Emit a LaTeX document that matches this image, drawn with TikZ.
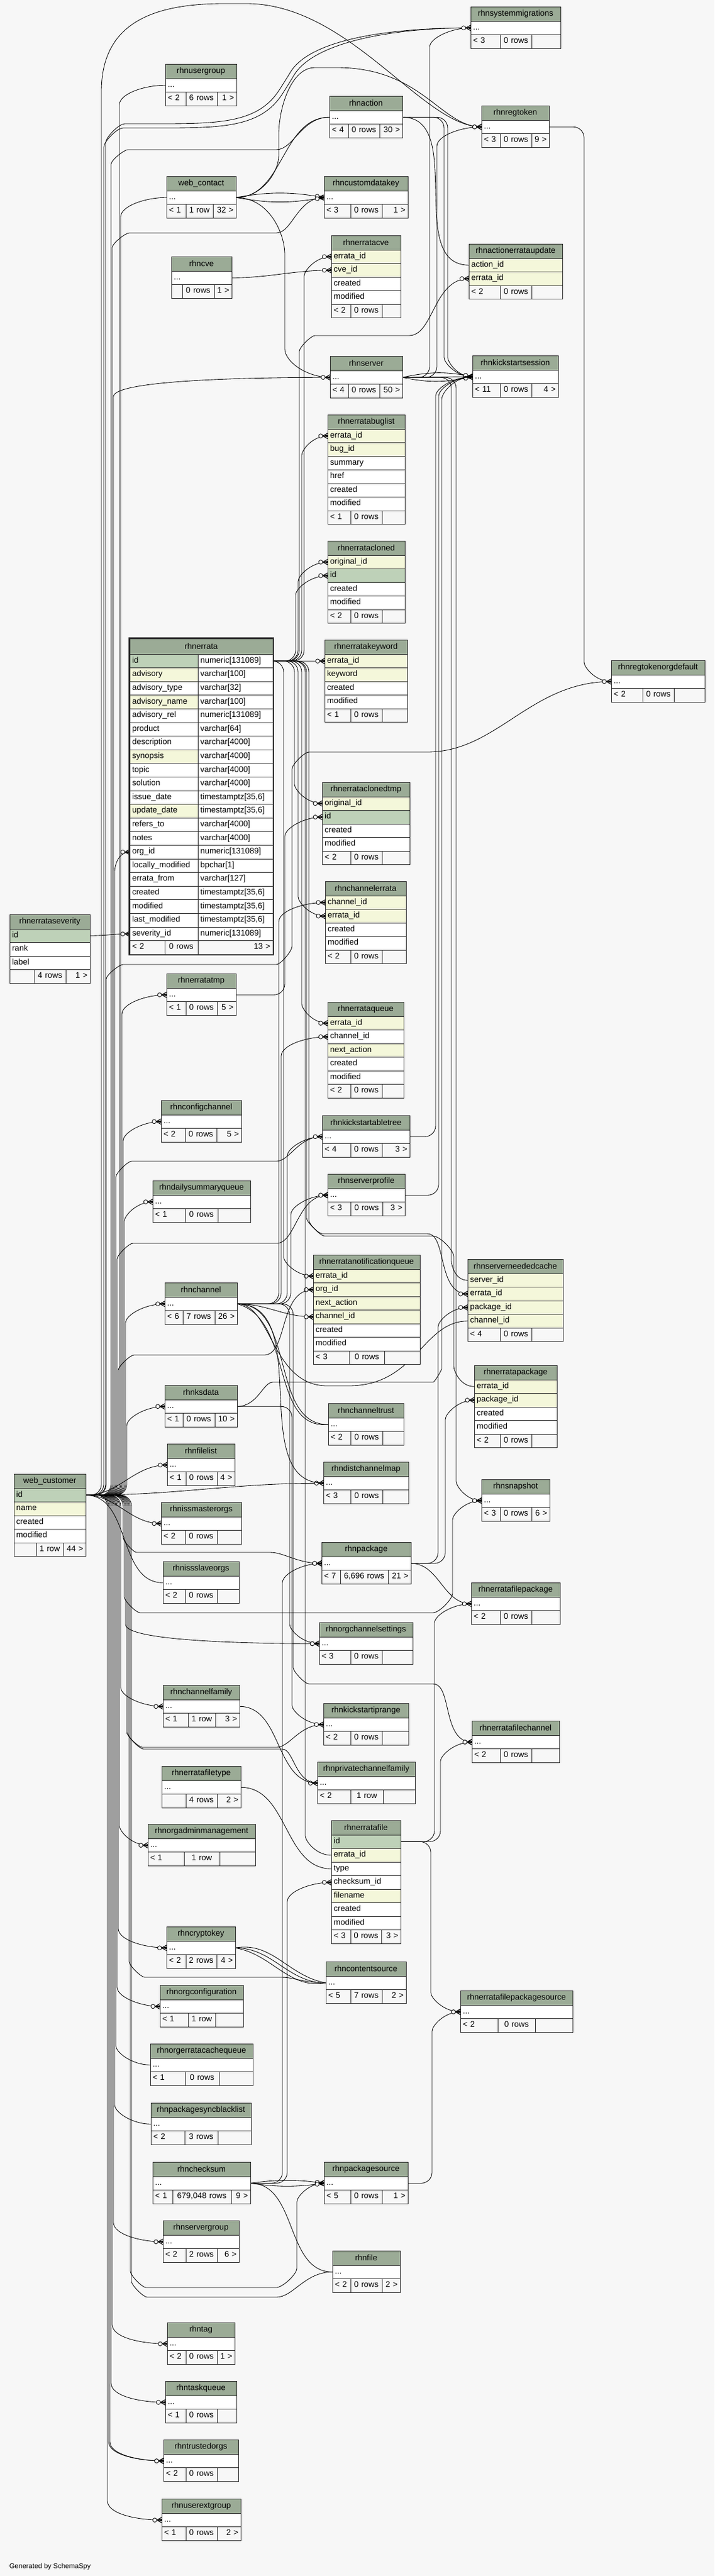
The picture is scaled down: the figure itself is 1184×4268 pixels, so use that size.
\documentclass[tikz,border=0pt]{standalone}
\usepackage{fontspec}
\setmainfont{Liberation Sans}
\usetikzlibrary{calc,decorations.markings}

\definecolor{bgc}{HTML}{F7F7F7}
\definecolor{hdc}{HTML}{9BAB96}
\definecolor{pkc}{HTML}{BED1B8}
\definecolor{ixc}{HTML}{F4F7DA}
\definecolor{ftc}{HTML}{F7F7F7}
\definecolor{lnc}{HTML}{2B2B2B}

\pgfdeclarelayer{background}
\pgfsetlayers{background,main}

% ends of the foreign keys
\newcommand\crowfoot{%
  \draw[line width=1.1pt,sharp corners] (-8pt,0pt) -- (0pt,4.5pt) (-8pt,0pt) -- (0pt,-4.5pt);
  \fill[sharp corners] (-8pt,0pt) -- (0pt,2pt) -- (0pt,-2pt) -- cycle;
  \filldraw[line width=0.8pt,fill=white] (-11.5pt,0pt) circle (3.4pt);}
\newcommand\onefoot{%
  \draw[line width=2pt,sharp corners] (-1.5pt,-4.5pt) -- (-1.5pt,4.5pt);
  \filldraw[line width=0.8pt,fill=white] (-8pt,0pt) circle (3.4pt);}

\tikzset{
  hd/.style={draw=lnc, fill=hdc, line width=0.9pt, anchor=north west,
    minimum height=24pt, inner sep=0pt, outer sep=0pt},
  rw/.style={draw=lnc, fill=white, line width=0.9pt, anchor=north west,
    minimum height=22.5pt, inner xsep=4pt, inner ysep=0pt, outer sep=0pt,
    align=left, execute at begin node=\strut},
  ft/.style={rw, fill=ftc},
  pkrow/.style={fill=pkc},
  ixrow/.style={fill=ixc},
  fk/.style={draw=black, line width=0.85pt, rounded corners=18pt,
    decoration={markings, mark=at position 1 with {\crowfoot}},
    postaction={decorate}},
  fkone/.style={fk, decoration={markings, mark=at position 1 with {\onefoot}}},
}

% table pieces: name, ..., left x, top y, right x
\newcommand\tabhead[5]{\pgfmathsetmacro\tbw{#5-#3}%
  \node[hd, minimum width=\tbw pt] (#1T) at (#3,#4) {#2};}
\newcommand\tabrow[6]{\pgfmathsetmacro\tbw{#5-#3-8}%
  \node[rw, #2, text width=\tbw pt] (#1) at (#3,#4) {#6};}
\newcommand\tabdots[5]{\tabhead{#1}{#2}{#3}{#4}{#5}\tabrow{#1}{}{#3}{#4+24}{#5}{...}}
\newcommand\tabfoot[9]{%
  \pgfmathsetmacro\fwa{#4-#2-8}\pgfmathsetmacro\fwb{#5-#4-8}\pgfmathsetmacro\fwc{#6-#5-8}%
  \node[ft, text width=\fwa pt] (#1F1) at (#2,#3) {#7};
  \node[ft, text width=\fwb pt, align=center] (#1F2) at (#4,#3) {#8};
  \node[ft, text width=\fwc pt, align=right] (#1F3) at (#5,#3) {#9};}

% connectors that run along a trunk at x = #4
\newcommand\upedge[4][fk]{\draw[#1] let \p2=(#3) in (#2) -| (#4pt,\y2-50pt)
  to[out=90,in=180,out max distance=45pt] (#3);}
\newcommand\downedge[4][fk]{\draw[#1] let \p2=(#3) in (#2) -| (#4pt,\y2+50pt)
  to[out=-90,in=180,out max distance=45pt] (#3);}

\begin{document}
\begin{tikzpicture}[x=1pt, y=-1pt, font=\fontsize{13.5}{15}\selectfont]
\useasboundingbox (0,0) rectangle (1184,4268);

% column 1
\tabdots{rhnusergroup}{rhnusergroup}{274}{106}{392}
\tabfoot{rhnusergroup}{274}{152.5}{308}{360}{392}{< 2}{6 rows}{1 >}
\tabdots{webcontact}{web\_contact}{276}{292}{391}
\tabfoot{webcontact}{276}{338.5}{308}{353}{391}{< 1}{1 row}{32 >}
\tabdots{rhncve}{rhncve}{284}{425}{384}
\tabfoot{rhncve}{284}{471.5}{302}{355}{384}{}{0 rows}{1 >}

\node[hd, minimum width=237pt, minimum height=26pt] (rhnerrataT) at (215,1058) {rhnerrata};
\foreach \n/\t/\c [count=\i from 0] in {id/numeric[131089]/pkc, advisory/varchar[100]/ixc,
    advisory\_type/varchar[32]/white, advisory\_name/varchar[100]/ixc,
    advisory\_rel/numeric[131089]/white, product/varchar[64]/white,
    description/varchar[4000]/white, synopsis/varchar[4000]/ixc, topic/varchar[4000]/white,
    solution/varchar[4000]/white, issue\_date/{timestamptz[35,6]}/white,
    update\_date/{timestamptz[35,6]}/ixc, refers\_to/varchar[4000]/white,
    notes/varchar[4000]/white, org\_id/numeric[131089]/white, locally\_modified/bpchar[1]/white,
    errata\_from/varchar[127]/white, created/{timestamptz[35,6]}/white,
    modified/{timestamptz[35,6]}/white, last\_modified/{timestamptz[35,6]}/white,
    severity\_id/numeric[131089]/white}
  {\node[rw, fill=\c, minimum height=22.6pt, text width=105pt] (er\i) at (215,1084+22.6*\i) {\n};
   \node[rw, minimum height=22.6pt, text width=116pt] (et\i) at (328,1084+22.6*\i) {\t};}
\tabfoot{rhnerrata}{215}{1558.6}{273}{328}{452}{< 2}{0 rows}{13 >}
\draw[lnc, line width=2.6pt] (214,1057) rectangle (453,1582);

\tabhead{rhnerrataseverity}{rhnerrataseverity}{16}{1515}{149}
\tabrow{rhnerrataseverity-id}{pkrow}{16}{1539}{149}{id}
\tabrow{rhnerrataseverity-rank}{}{16}{1561.5}{149}{rank}
\tabrow{rhnerrataseverity-label}{}{16}{1584}{149}{label}
\tabfoot{rhnerrataseverity}{16}{1606.5}{57}{109}{149}{}{4 rows}{1 >}

\tabdots{rhnerratatmp}{rhnerratatmp}{276}{1613}{391}
\tabfoot{rhnerratatmp}{276}{1659.5}{308}{360}{391}{< 1}{0 rows}{5 >}
\tabdots{rhnconfigchannel}{rhnconfigchannel}{267}{1823}{400}
\tabfoot{rhnconfigchannel}{267}{1869.5}{307}{359}{400}{< 2}{0 rows}{5 >}
\tabdots{rhndailysummaryqueue}{rhndailysummaryqueue}{253}{1956}{415}
\tabfoot{rhndailysummaryqueue}{253}{2002.5}{307}{361}{415}{< 1}{0 rows}{}
\tabdots{rhnchannel}{rhnchannel}{273}{2125}{393}
\tabfoot{rhnchannel}{273}{2171.5}{303}{356}{393}{< 6}{7 rows}{26 >}
\tabdots{rhnksdata}{rhnksdata}{273}{2295}{393}
\tabfoot{rhnksdata}{273}{2341.5}{303}{356}{393}{< 1}{0 rows}{10 >}
\tabdots{rhnfilelist}{rhnfilelist}{277}{2392}{389}
\tabfoot{rhnfilelist}{277}{2438.5}{308}{360}{389}{< 1}{0 rows}{4 >}

\tabhead{wc}{web\_customer}{23}{2442}{142}
\tabrow{wc-id}{pkrow}{23}{2466}{142}{id}
\tabrow{wc-name}{ixrow}{23}{2488.5}{142}{name}
\tabrow{wc-created}{}{23}{2511}{142}{created}
\tabrow{wc-modified}{}{23}{2533.5}{142}{modified}
\tabfoot{wc}{23}{2556}{60}{105}{142}{}{1 row}{44 >}

\tabdots{rhnissmasterorgs}{rhnissmasterorgs}{267}{2489}{400}
\tabfoot{rhnissmasterorgs}{267}{2535.5}{307}{360}{400}{< 2}{0 rows}{}
\tabdots{rhnissslaveorgs}{rhnissslaveorgs}{270}{2587}{396}
\tabfoot{rhnissslaveorgs}{270}{2633.5}{307}{360}{396}{< 2}{0 rows}{}
\tabdots{rhnchannelfamily}{rhnchannelfamily}{270}{2792}{397}
\tabfoot{rhnchannelfamily}{270}{2838.5}{312}{357}{397}{< 1}{1 row}{3 >}
\tabdots{rhnerratafiletype}{rhnerratafiletype}{268}{2926}{399}
\tabfoot{rhnerratafiletype}{268}{2972.5}{308}{360}{399}{}{4 rows}{2 >}
\tabdots{rhnorgadminmanagement}{rhnorgadminmanagement}{245}{3022}{423}
\tabfoot{rhnorgadminmanagement}{245}{3068.5}{305}{364}{423}{< 1}{1 row}{}
\tabdots{rhncryptokey}{rhncryptokey}{276}{3192}{390}
\tabfoot{rhncryptokey}{276}{3238.5}{308}{359}{390}{< 2}{2 rows}{4 >}
\tabdots{rhnorgconfiguration}{rhnorgconfiguration}{265}{3289}{403}
\tabfoot{rhnorgconfiguration}{265}{3335.5}{312}{357}{403}{< 1}{1 row}{}
\tabdots{rhnorgerratacachequeue}{rhnorgerratacachequeue}{249}{3386}{419}
\tabfoot{rhnorgerratacachequeue}{249}{3432.5}{307}{363}{419}{< 1}{0 rows}{}
\tabdots{rhnpackagesyncblacklist}{rhnpackagesyncblacklist}{250}{3484}{416}
\tabfoot{rhnpackagesyncblacklist}{250}{3530.5}{306}{361}{416}{< 2}{3 rows}{}
\tabdots{rhnchecksum}{rhnchecksum}{253}{3582}{415}
\tabfoot{rhnchecksum}{253}{3628.5}{286}{383}{415}{< 1}{679,048 rows}{9 >}
\tabdots{rhnservergroup}{rhnservergroup}{270}{3679}{396}
\tabfoot{rhnservergroup}{270}{3725.5}{308}{360}{396}{< 2}{2 rows}{6 >}
\tabdots{rhntag}{rhntag}{277}{3848}{389}
\tabfoot{rhntag}{277}{3894.5}{308}{360}{389}{< 2}{0 rows}{1 >}
\tabdots{rhntaskqueue}{rhntaskqueue}{274}{3945}{392}
\tabfoot{rhntaskqueue}{274}{3991.5}{308}{360}{392}{< 1}{0 rows}{}
\tabdots{rhntrustedorgs}{rhntrustedorgs}{271}{4042}{395}
\tabfoot{rhntrustedorgs}{271}{4088.5}{308}{360}{395}{< 2}{0 rows}{}
\tabdots{rhnuserextgroup}{rhnuserextgroup}{268}{4140}{399}
\tabfoot{rhnuserextgroup}{268}{4186.5}{308}{360}{399}{< 1}{0 rows}{2 >}

% column 2
\tabdots{rhnaction}{rhnaction}{546}{159}{667}
\tabfoot{rhnaction}{546}{205.5}{577}{629}{667}{< 4}{0 rows}{30 >}
\tabdots{rhncustomdatakey}{rhncustomdatakey}{537}{292}{676}
\tabfoot{rhncustomdatakey}{537}{338.5}{581}{633}{676}{< 3}{0 rows}{1 >}

\tabhead{rhnerratacve}{rhnerratacve}{549}{390}{664}
\tabrow{rhnerratacve-errata}{ixrow}{549}{414}{664}{errata\_id}
\tabrow{rhnerratacve-cve}{ixrow}{549}{436.5}{664}{cve\_id}
\tabrow{rhnerratacve-created}{}{549}{459}{664}{created}
\tabrow{rhnerratacve-modified}{}{549}{481.5}{664}{modified}
\tabfoot{rhnerratacve}{549}{504}{581}{633}{664}{< 2}{0 rows}{}

\tabdots{rhnserver}{rhnserver}{547}{590}{667}
\tabfoot{rhnserver}{547}{636.5}{577}{629}{667}{< 4}{0 rows}{50 >}

\tabhead{rhnerratabuglist}{rhnerratabuglist}{543}{687}{671}
\tabrow{rhnerratabuglist-errata}{ixrow}{543}{711}{671}{errata\_id}
\tabrow{rhnerratabuglist-bug}{ixrow}{543}{733.5}{671}{bug\_id}
\tabrow{rhnerratabuglist-summary}{}{543}{756}{671}{summary}
\tabrow{rhnerratabuglist-href}{}{543}{778.5}{671}{href}
\tabrow{rhnerratabuglist-created}{}{543}{801}{671}{created}
\tabrow{rhnerratabuglist-modified}{}{543}{823.5}{671}{modified}
\tabfoot{rhnerratabuglist}{543}{846}{581}{633}{671}{< 1}{0 rows}{}

\tabhead{rhnerratacloned}{rhnerratacloned}{543}{896}{671}
\tabrow{rhnerratacloned-orig}{ixrow}{543}{920}{671}{original\_id}
\tabrow{rhnerratacloned-id}{pkrow}{543}{942.5}{671}{id}
\tabrow{rhnerratacloned-created}{}{543}{965}{671}{created}
\tabrow{rhnerratacloned-modified}{}{543}{987.5}{671}{modified}
\tabfoot{rhnerratacloned}{543}{1010}{581}{633}{671}{< 2}{0 rows}{}

\tabhead{rhnerratakeyword}{rhnerratakeyword}{538}{1060}{675}
\tabrow{rhnerratakeyword-errata}{ixrow}{538}{1084}{675}{errata\_id}
\tabrow{rhnerratakeyword-keyword}{ixrow}{538}{1106.5}{675}{keyword}
\tabrow{rhnerratakeyword-created}{}{538}{1129}{675}{created}
\tabrow{rhnerratakeyword-modified}{}{538}{1151.5}{675}{modified}
\tabfoot{rhnerratakeyword}{538}{1174}{581}{633}{675}{< 1}{0 rows}{}

\tabhead{rhnerrataclonedtmp}{rhnerrataclonedtmp}{534}{1296}{679}
\tabrow{rhnerrataclonedtmp-orig}{ixrow}{534}{1320}{679}{original\_id}
\tabrow{rhnerrataclonedtmp-id}{pkrow}{534}{1342.5}{679}{id}
\tabrow{rhnerrataclonedtmp-created}{}{534}{1365}{679}{created}
\tabrow{rhnerrataclonedtmp-modified}{}{534}{1387.5}{679}{modified}
\tabfoot{rhnerrataclonedtmp}{534}{1410}{581}{633}{679}{< 2}{0 rows}{}

\tabhead{rhnchannelerrata}{rhnchannelerrata}{539}{1460}{673}
\tabrow{rhnchannelerrata-channel}{ixrow}{539}{1484}{673}{channel\_id}
\tabrow{rhnchannelerrata-errata}{ixrow}{539}{1506.5}{673}{errata\_id}
\tabrow{rhnchannelerrata-created}{}{539}{1529}{673}{created}
\tabrow{rhnchannelerrata-modified}{}{539}{1551.5}{673}{modified}
\tabfoot{rhnchannelerrata}{539}{1574}{581}{633}{673}{< 2}{0 rows}{}

\tabhead{rhnerrataqueue}{rhnerrataqueue}{543}{1660}{669}
\tabrow{rhnerrataqueue-errata}{ixrow}{543}{1684}{669}{errata\_id}
\tabrow{rhnerrataqueue-channel}{}{543}{1706.5}{669}{channel\_id}
\tabrow{rhnerrataqueue-next}{ixrow}{543}{1729}{669}{next\_action}
\tabrow{rhnerrataqueue-created}{}{543}{1751.5}{669}{created}
\tabrow{rhnerrataqueue-modified}{}{543}{1774}{669}{modified}
\tabfoot{rhnerrataqueue}{543}{1796.5}{581}{633}{669}{< 2}{0 rows}{}

\tabdots{rhnkickstartabletree}{rhnkickstartabletree}{534}{1848}{679}
\tabfoot{rhnkickstartabletree}{534}{1894.5}{581}{633}{679}{< 4}{0 rows}{3 >}
\tabdots{rhnserverprofile}{rhnserverprofile}{543}{1945}{671}
\tabfoot{rhnserverprofile}{543}{1991.5}{581}{634}{671}{< 3}{0 rows}{3 >}

\tabhead{rhnerratanotificationqueue}{rhnerratanotificationqueue}{519}{2079}{696}
\tabrow{rhnerratanotificationqueue-errata}{ixrow}{519}{2103}{696}{errata\_id}
\tabrow{rhnerratanotificationqueue-org}{ixrow}{519}{2125.5}{696}{org\_id}
\tabrow{rhnerratanotificationqueue-next}{ixrow}{519}{2148}{696}{next\_action}
\tabrow{rhnerratanotificationqueue-channel}{ixrow}{519}{2170.5}{696}{channel\_id}
\tabrow{rhnerratanotificationqueue-created}{}{519}{2193}{696}{created}
\tabrow{rhnerratanotificationqueue-modified}{}{519}{2215.5}{696}{modified}
\tabfoot{rhnerratanotificationqueue}{519}{2238}{579}{637}{696}{< 3}{0 rows}{}

\tabdots{rhnchanneltrust}{rhnchanneltrust}{544}{2325}{669}
\tabfoot{rhnchanneltrust}{544}{2371.5}{581}{634}{669}{< 2}{0 rows}{}
\tabdots{rhndistchannelmap}{rhndistchannelmap}{536}{2422}{677}
\tabfoot{rhndistchannelmap}{536}{2468.5}{581}{634}{677}{< 3}{0 rows}{}
\tabdots{rhnpackage}{rhnpackage}{533}{2555}{681}
\tabfoot{rhnpackage}{533}{2601.5}{564}{643}{681}{< 7}{6,696 rows}{21 >}
\tabdots{rhnorgchannelsettings}{rhnorgchannelsettings}{529}{2688}{684}
\tabfoot{rhnorgchannelsettings}{529}{2734.5}{581}{633}{684}{< 3}{0 rows}{}
\tabdots{rhnkickstartiprange}{rhnkickstartiprange}{536}{2822}{677}
\tabfoot{rhnkickstartiprange}{536}{2868.5}{581}{633}{677}{< 2}{0 rows}{}
\tabdots{rhnprivatechannelfamily}{rhnprivatechannelfamily}{526}{2919}{688}
\tabfoot{rhnprivatechannelfamily}{526}{2965.5}{581}{635}{688}{< 2}{1 row}{}

\tabhead{rhnerratafile}{rhnerratafile}{549}{3016}{664}
\tabrow{rhnerratafile-id}{pkrow}{549}{3040}{664}{id}
\tabrow{rhnerratafile-errata}{ixrow}{549}{3062.5}{664}{errata\_id}
\tabrow{rhnerratafile-type}{}{549}{3085}{664}{type}
\tabrow{rhnerratafile-checksum}{}{549}{3107.5}{664}{checksum\_id}
\tabrow{rhnerratafile-filename}{ixrow}{549}{3130}{664}{filename}
\tabrow{rhnerratafile-created}{}{549}{3152.5}{664}{created}
\tabrow{rhnerratafile-modified}{}{549}{3175}{664}{modified}
\tabfoot{rhnerratafile}{549}{3197.5}{581}{632}{664}{< 3}{0 rows}{3 >}

\tabdots{rhncontentsource}{rhncontentsource}{540}{3250}{673}
\tabfoot{rhncontentsource}{540}{3296.5}{581}{633}{673}{< 5}{7 rows}{2 >}
\tabdots{rhnpackagesource}{rhnpackagesource}{537}{3582}{676}
\tabfoot{rhnpackagesource}{537}{3628.5}{581}{633}{676}{< 5}{0 rows}{1 >}
\tabdots{rhnfile}{rhnfile}{551}{3729}{663}
\tabfoot{rhnfile}{551}{3775.5}{581}{633}{663}{< 2}{0 rows}{2 >}

% column 3
\tabdots{rhnsystemmigrations}{rhnsystemmigrations}{780}{11}{929}
\tabfoot{rhnsystemmigrations}{780}{57.5}{829}{881}{929}{< 3}{0 rows}{}
\tabdots{rhnregtoken}{rhnregtoken}{798}{175}{910}
\tabfoot{rhnregtoken}{798}{221.5}{829}{881}{910}{< 3}{0 rows}{9 >}

\tabhead{rhnactionerrataupdate}{rhnactionerrataupdate}{777}{404}{932}
\tabrow{rhnactionerrataupdate-action}{ixrow}{777}{428}{932}{action\_id}
\tabrow{rhnactionerrataupdate-errata}{ixrow}{777}{450.5}{932}{errata\_id}
\tabfoot{rhnactionerrataupdate}{777}{473}{829}{881}{932}{< 2}{0 rows}{}

\tabdots{rhnkickstartsession}{rhnkickstartsession}{783}{589}{925}
\tabfoot{rhnkickstartsession}{783}{635.5}{829}{881}{925}{< 11}{0 rows}{4 >}
\tabdots{rhnregtokenorgdefault}{rhnregtokenorgdefault}{1013}{1094}{1168}
\tabfoot{rhnregtokenorgdefault}{1013}{1140.5}{1065}{1117}{1168}{< 2}{0 rows}{}

\tabhead{rhnserverneededcache}{rhnserverneededcache}{775}{2086}{933}
\tabrow{rhnserverneededcache-server}{ixrow}{775}{2110}{933}{server\_id}
\tabrow{rhnserverneededcache-errata}{ixrow}{775}{2132.5}{933}{errata\_id}
\tabrow{rhnserverneededcache-package}{ixrow}{775}{2155}{933}{package\_id}
\tabrow{rhnserverneededcache-channel}{ixrow}{775}{2177.5}{933}{channel\_id}
\tabfoot{rhnserverneededcache}{775}{2200}{829}{881}{933}{< 4}{0 rows}{}

\tabhead{rhnerratapackage}{rhnerratapackage}{786}{2262}{923}
\tabrow{rhnerratapackage-errata}{ixrow}{786}{2286}{923}{errata\_id}
\tabrow{rhnerratapackage-package}{ixrow}{786}{2308.5}{923}{package\_id}
\tabrow{rhnerratapackage-created}{}{786}{2331}{923}{created}
\tabrow{rhnerratapackage-modified}{}{786}{2353.5}{923}{modified}
\tabfoot{rhnerratapackage}{786}{2376}{829}{881}{923}{< 2}{0 rows}{}

\tabdots{rhnsnapshot}{rhnsnapshot}{798}{2451}{911}
\tabfoot{rhnsnapshot}{798}{2497.5}{829}{881}{911}{< 3}{0 rows}{6 >}
\tabdots{rhnerratafilepackage}{rhnerratafilepackage}{781}{2622}{928}
\tabfoot{rhnerratafilepackage}{781}{2668.5}{829}{881}{928}{< 2}{0 rows}{}
\tabdots{rhnerratafilechannel}{rhnerratafilechannel}{782}{2851}{927}
\tabfoot{rhnerratafilechannel}{782}{2897.5}{829}{881}{927}{< 2}{0 rows}{}
\tabdots{rhnerratafilepackagesource}{rhnerratafilepackagesource}{763}{3298}{949}
\tabfoot{rhnerratafilepackagesource}{763}{3344.5}{825}{887}{949}{< 2}{0 rows}{}

\node[anchor=west, font=\fontsize{11.5}{13}\selectfont] (gen) at (12,4252) {Generated by SchemaSpy};

\begin{pgfonlayer}{background}
\fill[bgc] (0,0) rectangle (1184,4268);

% web_customer
\draw[fk] (wc-id.east) -| (168,170) .. controls (168,40) and (250,6) .. (390,6)
  .. controls (580,6) and (700,210) .. (rhnregtoken.west);
\draw[fk] (wc-id.east) -| (172,262) to[out=90,in=180] (222,212)
  .. controls (360,212) and (430,215) .. (478,140) .. controls (520,70) and (650,46) .. (rhnsystemmigrations.west);
\draw[fk] (wc-id.east) -| (175,255) to[out=90,in=180] (225,205)
  .. controls (355,205) and (425,207) .. (472,135) .. controls (515,64) and (650,46) .. (rhnsystemmigrations.west);
\upedge{wc-id.east}{rhnusergroup.west}{198}
\draw[fk] (wc-id.east) -| (184,290) to[out=90,in=180] (230,248) -- (440,248) to[out=0,in=180] (rhnaction.west);
\upedge{wc-id.east}{webcontact.west}{200}
\draw[fk] (wc-id.east) -| (186,428) to[out=90,in=180] (232,386) -- (440,386) to[out=0,in=180] (rhncustomdatakey.west);
\upedge{wc-id.east}{rhnserver.west}{188}
\draw[fk] (wc-id.east) -| (176,1640) to[out=90,in=180] (222,1598) -- (440,1598) to[out=0,in=-90] (484,1550)
  -- (484,1292) to[out=90,in=180] (530,1246) -- (690,1246) to[out=0,in=180] (rhnregtokenorgdefault.west);
\upedge{wc-id.east}{er14.west}{190}
\upedge{wc-id.east}{rhnerratatmp.west}{202}
\upedge{wc-id.east}{rhnconfigchannel.west}{204}
\upedge[fkone]{wc-id.east}{rhndailysummaryqueue.west}{206}
\draw[fk] (wc-id.east) -| (192,1968) to[out=90,in=180] (236,1924) -- (440,1924) to[out=0,in=180] (rhnkickstartabletree.west);
\draw[fk] (wc-id.east) -| (194,2104) to[out=90,in=180] (238,2060) -- (440,2060) to[out=0,in=180] (rhnserverprofile.west);
\upedge{wc-id.east}{rhnchannel.west}{208}
\draw[fk] (wc-id.east) -| (196,2288) to[out=90,in=180] (240,2245) -- (420,2245) to[out=0,in=180] (rhnerratanotificationqueue-org.west);
\upedge{wc-id.east}{rhnksdata.west}{210}
\draw[fk] (wc-id.east) to[out=0,in=180] (rhnfilelist.west);
\draw[fk] (wc-id.east) to[out=0,in=180] (rhndistchannelmap.west);
\draw[fk] (wc-id.east) to[out=0,in=180] (rhnissmasterorgs.west);
\draw[fk] (wc-id.east) to[out=0,in=180] (rhnissslaveorgs.west);
\draw[fk] (wc-id.east) -| (204,2530) to[out=-90,in=180] (244,2572) -- (430,2572) to[out=0,in=180] (rhnpackage.west);
\draw[fk] (wc-id.east) -| (206,2628) to[out=-90,in=180] (250,2672) -- (700,2672) to[out=0,in=-90] (750,2622)
  -- (750,2536) to[out=90,in=180] (rhnsnapshot.west);
\downedge{wc-id.east}{rhnorgchannelsettings.west}{208}
\downedge{wc-id.east}{rhnchannelfamily.west}{200}
\draw[fk] (wc-id.east) -| (210,2852) to[out=-90,in=180] (254,2895) -- (440,2895) to[out=0,in=180] (rhnkickstartiprange.west);
\draw[fk] (wc-id.east) -| (212,2854) to[out=-90,in=180] (256,2898) -- (450,2898) to[out=0,in=180] (rhnprivatechannelfamily.west);
\downedge[fkone]{wc-id.east}{rhnorgadminmanagement.west}{198}
\downedge{wc-id.east}{rhncryptokey.west}{196}
\draw[fk] (wc-id.east) -| (214,3232) to[out=-90,in=180] (258,3276) -- (450,3276) to[out=0,in=180] (rhncontentsource.west);
\downedge[fkone]{wc-id.east}{rhnorgconfiguration.west}{194}
\downedge[fkone]{wc-id.east}{rhnorgerratacachequeue.west}{192}
\downedge{wc-id.east}{rhnpackagesyncblacklist.west}{190}
\downedge{wc-id.east}{rhnservergroup.west}{188}
\draw[fk] (wc-id.east) -| (216,3745) to[out=-90,in=180] (260,3790) -- (440,3790) to[out=0,in=-90] (492,3740)
  -- (492,3666) to[out=90,in=180] (rhnpackagesource.west);
\draw[fk] (wc-id.east) -| (218,3762) to[out=-90,in=180] (262,3806) -- (440,3806) to[out=0,in=180] (rhnfile.west);
\downedge{wc-id.east}{rhntag.west}{186}
\downedge{wc-id.east}{rhntaskqueue.west}{184}
\downedge{wc-id.east}{rhntrustedorgs.west}{182}
\downedge{wc-id.east}{rhntrustedorgs.west}{180}
\downedge{wc-id.east}{rhnuserextgroup.west}{178}

% web_contact, rhnaction, rhnserver, rhncve, rhnregtoken
\draw[fk] (webcontact.east) to[out=0,in=-90] (462,240) to[out=90,in=180] (540,112)
  .. controls (700,112) and (730,210) .. (rhnregtoken.west);
\draw[fk] (webcontact.east) to[out=0,in=180] (rhnaction.west);
\draw[fk] (webcontact.east) to[out=10,in=170] (rhncustomdatakey.west);
\draw[fk] (webcontact.east) to[out=-10,in=190] (rhncustomdatakey.west);
\draw[fk] (webcontact.east) to[out=0,in=90] (472,440) -- (472,560) to[out=-90,in=180] (rhnserver.west);
\draw[fk] (rhnaction.east) to[out=0,in=180] (rhnactionerrataupdate-action.west);
\downedge{rhnaction.east}{rhnkickstartsession.west}{736}
\downedge{rhnaction.east}{rhnkickstartsession.west}{742}
\draw[fk] (rhnserver.east) to[out=0,in=180] (rhnkickstartsession.west);
\draw[fk] (rhnserver.east) to[out=12,in=168] (rhnkickstartsession.west);
\draw[fk] (rhnserver.east) to[out=-12,in=192] (rhnkickstartsession.west);
\upedge{rhnserver.east}{rhnsystemmigrations.west}{712}
\upedge{rhnserver.east}{rhnregtoken.west}{724}
\downedge{rhnserver.east}{rhnserverneededcache-server.west}{748}
\downedge{rhnserver.east}{rhnsnapshot.west}{756}
\draw[fk] (rhncve.east) to[out=0,in=180] (rhnerratacve-cve.west);
\downedge{rhnregtoken.east}{rhnregtokenorgdefault.west}{968}

% rhnerrata
\draw[fk] (rhnerrataseverity-id.east) to[out=0,in=180] (er20.west);
\upedge{et0.east}{rhnerratacve-errata.west}{504}
\draw[fk] (et0.east) -| (496,600) to[out=90,in=180] (540,556) -- (660,556)
  to[out=0,in=180] (rhnactionerrataupdate-errata.west);
\upedge{et0.east}{rhnerratabuglist-errata.west}{500}
\upedge{et0.east}{rhnerratacloned-orig.west}{494}
\upedge[fkone]{et0.east}{rhnerratacloned-id.west}{490}
\draw[fk] (et0.east) -- (rhnerratakeyword-errata.west);
\downedge{et0.east}{rhnerrataclonedtmp-orig.west}{488}
\downedge{et0.east}{rhnchannelerrata-errata.west}{494}
\downedge{et0.east}{rhnerrataqueue-errata.west}{500}
\downedge{et0.east}{rhnerratanotificationqueue-errata.west}{470}
\draw[fk] (et0.east) -| (508,2000) to[out=-90,in=180] (552,2044) -- (690,2044)
  to[out=0,in=180] (rhnserverneededcache-errata.west);
\draw[fk] (et0.east) -| (512,2004) to[out=-90,in=180] (556,2048) -- (700,2048) to[out=0,in=90] (752,2100)
  -- (752,2246) to[out=-90,in=180] (rhnerratapackage-errata.west);
\downedge{et0.east}{rhnerratafile-errata.west}{506}
\upedge[fkone]{rhnerratatmp.east}{rhnerrataclonedtmp-id.west}{472}

% rhnchannel, rhnksdata, kickstart
\upedge{rhnchannel.east}{rhnchannelerrata-channel.west}{462}
\upedge{rhnchannel.east}{rhnerrataqueue-channel.west}{466}
\upedge{rhnchannel.east}{rhnkickstartabletree.west}{476}
\upedge{rhnchannel.east}{rhnserverprofile.west}{482}
\draw[fk] (rhnchannel.east) to[out=0,in=180] (rhnerratanotificationqueue-channel.west);
\draw[fk] (rhnchannel.east) .. controls (450,2160) and (450,2296) .. (560,2296)
  .. controls (690,2296) and (700,2189) .. (rhnserverneededcache-channel.west);
\draw[fk] (rhnchannel.east) to[out=0,in=180] (rhnchanneltrust.west);
\draw[fk] (rhnchannel.east) to[out=-15,in=185] (rhnchanneltrust.west);
\draw[fk] (rhnchannel.east) to[out=0,in=180] (rhndistchannelmap.west);
\downedge{rhnchannel.east}{rhnorgchannelsettings.west}{480}
\draw[fk] (rhnchannel.east) -| (486,2745) to[out=-90,in=180] (530,2790) -- (700,2790)
  to[out=0,in=180] (rhnerratafilechannel.west);
\draw[fk] (rhnksdata.east) to[out=0,in=180] (470,2290) -- (700,2290) to[out=0,in=-90] (732,2250)
  -- (732,680) to[out=90,in=180] (rhnkickstartsession.west);
\downedge{rhnksdata.east}{rhnkickstartiprange.west}{484}
\upedge{rhnkickstartabletree.east}{rhnkickstartsession.west}{722}
\upedge{rhnserverprofile.east}{rhnkickstartsession.west}{727}

% packages, files, checksums
\upedge{rhnpackage.east}{rhnserverneededcache-package.west}{726}
\upedge{rhnpackage.east}{rhnerratapackage-package.west}{738}
\draw[fk] (rhnpackage.east) to[out=0,in=180] (rhnerratafilepackage.west);
\draw[fk] (rhnchannelfamily.east) to[out=0,in=180] (rhnprivatechannelfamily.west);
\draw[fk] (rhnerratafiletype.east) to[out=0,in=180] (rhnerratafile-type.west);
\draw[fk] (rhncryptokey.east) to[out=0,in=180] (rhncontentsource.west);
\draw[fk] (rhncryptokey.east) to[out=10,in=170] (rhncontentsource.west);
\draw[fk] (rhncryptokey.east) to[out=-10,in=190] (rhncontentsource.west);
\upedge{rhnerratafile-id.east}{rhnerratafilechannel.west}{730}
\upedge{rhnerratafile-id.east}{rhnerratafilepackage.west}{720}
\downedge{rhnerratafile-id.east}{rhnerratafilepackagesource.west}{714}
\upedge{rhnpackagesource.east}{rhnerratafilepackagesource.west}{716}
\upedge{rhnchecksum.east}{rhnpackage.west}{468}
\upedge{rhnchecksum.east}{rhnerratafile-checksum.west}{476}
\draw[fk] (rhnchecksum.east) to[out=8,in=172] (rhnpackagesource.west);
\draw[fk] (rhnchecksum.east) to[out=-8,in=188] (rhnpackagesource.west);
\draw[fk] (rhnchecksum.east) to[out=0,in=180] (rhnfile.west);
\end{pgfonlayer}
\end{tikzpicture}
\end{document}
